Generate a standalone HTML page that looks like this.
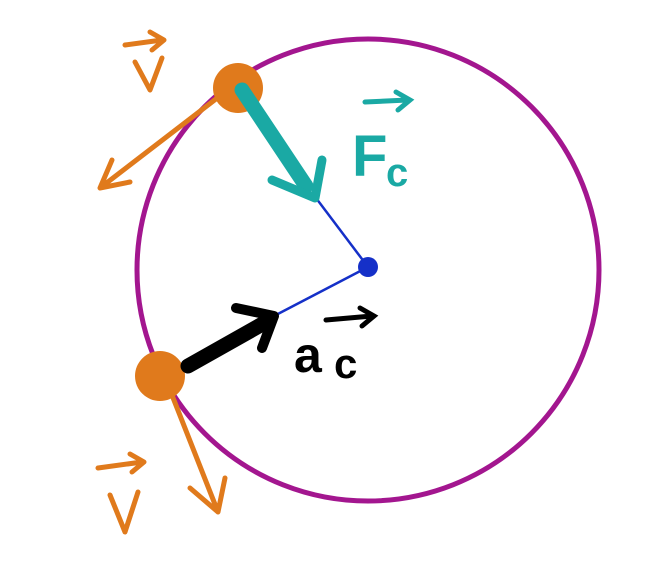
<!DOCTYPE html>
<html><head><meta charset="utf-8"><style>
html,body{margin:0;padding:0;background:#fff;}
svg{display:block;}
text{font-family:"Liberation Sans",sans-serif;font-weight:bold;}
</style></head><body>
<svg width="662" height="571" viewBox="0 0 662 571">
<circle cx="368" cy="270" r="231" fill="none" stroke="#a3168f" stroke-width="5"/>
<g stroke="#1530c8" stroke-width="2.5">
<line x1="368" y1="267" x2="316" y2="198"/>
<line x1="368" y1="267" x2="274" y2="316"/>
</g>
<circle cx="368" cy="267" r="10" fill="#1530c8"/>
<g stroke="#e07a1c" stroke-width="5" fill="none" stroke-linecap="round" stroke-linejoin="round">
<path d="M225 92 L100 188 M100 188 L112 160 M100 188 L130 182"/>
<path d="M168 385 L218 512 M218 512 L225 478 M218 512 L190 488"/>
<path d="M125 45 L162 40 M150 32 L164 40 L152 50"/>
<path d="M135 62 L150 90 L162 58"/>
<path d="M98 468 L142 462 M130 454 L144 462 L132 472"/>
<path d="M110 495 L125 532 L138 492"/>
</g>
<circle cx="238" cy="88" r="25" fill="#e07a1c"/>
<circle cx="160" cy="376" r="25" fill="#e07a1c"/>
<g>
<path d="M242 90 L306 186" stroke="#1aa9a4" stroke-width="15" stroke-linecap="round"/>
<path d="M272 180 L315 198 L322 160" stroke="#1aa9a4" stroke-width="9" fill="none" stroke-linecap="round" stroke-linejoin="round"/>
</g>
<g>
<path d="M188 366 L266 322" stroke="#000" stroke-width="15" stroke-linecap="round"/>
<path d="M236 308 L274 316 L262 348" stroke="#000" stroke-width="10" fill="none" stroke-linecap="round" stroke-linejoin="round"/>
</g>
<g>
<path d="M365 102 L408 100 M396 92 L410 100 L398 110" stroke="#1aa9a4" stroke-width="5" fill="none" stroke-linecap="round"/>
<text x="352" y="176" font-size="58" fill="#1aa9a4">F</text>
<text x="386" y="186" font-size="40" fill="#1aa9a4">c</text>
</g>
<g>
<path d="M326 320 L372 316 M360 308 L374 316 L362 326" stroke="#000" stroke-width="5" fill="none" stroke-linecap="round"/>
<text x="294" y="372" font-size="50" fill="#000">a</text>
<text x="334" y="378" font-size="42" fill="#000">c</text>
</g>
</svg>
</body></html>
